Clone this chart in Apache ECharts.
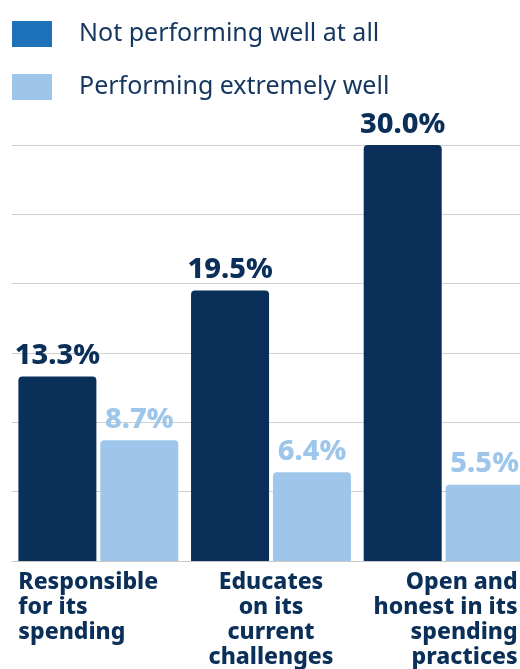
<!DOCTYPE html>
<html><head><meta charset="utf-8">
<script src="https://cdn.jsdelivr.net/npm/echarts@6/dist/echarts.min.js"></script>
<style>html,body{margin:0;padding:0;background:#fff;overflow:hidden}#c{width:540px;height:669px}</style>
</head><body><div id="c"></div>
<script>
const categories = ["Responsible\nfor its\nspending", "Educates\non its\ncurrent\nchallenges", "Open and\nhonest in its\nspending\npractices"];
const seriesNames = ["Not performing well at all", "Performing extremely well"];
const notWell = [13.3, 19.5, 30.0];
const extremelyWell = [8.7, 6.4, 5.5];
const yTicks = [0, 5, 10, 15, 20, 25, 30];

const DARK = '#0a2f58', LIGHT = '#9dc6ea', LEGEND_DARK = '#1e72b9';
const FONT = 'Noto Sans';
const chart = echarts.init(document.getElementById('c'));
const catStyles = ['l', 'm', 'r'];
function valLabel(color) {
  return { show: true, position: 'top', distance: 6, color: color, fontFamily: FONT, fontWeight: 800, fontSize: 29,
    formatter: p => p.value.toFixed(1) + '%' };
}
const catFont = { fontFamily: FONT, fontWeight: 800, fontSize: 23, lineHeight: 25, color: DARK };
chart.setOption({
  animation: false,
  legend: {
    orient: 'vertical', left: 12, top: 21, padding: 0, itemWidth: 40, itemHeight: 26, itemGap: 27,
    icon: 'rect',
    textStyle: { fontFamily: FONT, fontSize: 25, color: '#14365f', padding: [0, 0, 0, 22] },
    data: [
      { name: seriesNames[0], itemStyle: { color: LEGEND_DARK } },
      { name: seriesNames[1], itemStyle: { color: LIGHT } }
    ]
  },
  grid: { left: 12, top: 145, width: 518, height: 418, containLabel: false },
  xAxis: {
    type: 'category', data: categories,
    axisLine: { lineStyle: { color: '#c8c8c8' } }, axisTick: { show: false },
    axisLabel: {
      interval: 0, margin: 9, align: 'center',
      formatter: (v, i) => v.split('\n').map(s => '{' + catStyles[i] + '|' + s + '}').join('\n'),
      rich: {
        l: Object.assign({ width: 160, align: 'left' }, catFont),
        m: Object.assign({ align: 'center' }, catFont),
        r: Object.assign({ width: 148, align: 'right' }, catFont)
      }
    }
  },
  yAxis: {
    type: 'value', min: yTicks[0], max: yTicks[yTicks.length - 1], interval: 5,
    axisLabel: { show: false }, axisLine: { show: false }, axisTick: { show: false },
    splitLine: { lineStyle: { color: '#d0d0d0' } }
  },
  series: [
    { name: seriesNames[0], type: 'bar', data: notWell, barWidth: 78, barGap: '5%',
      itemStyle: { color: DARK, borderRadius: [4, 4, 0, 0] }, label: valLabel(DARK) },
    { name: seriesNames[1], type: 'bar', data: extremelyWell, barWidth: 78,
      itemStyle: { color: LIGHT, borderRadius: [4, 4, 0, 0] }, label: valLabel(LIGHT) }
  ]
});
</script></body></html>
